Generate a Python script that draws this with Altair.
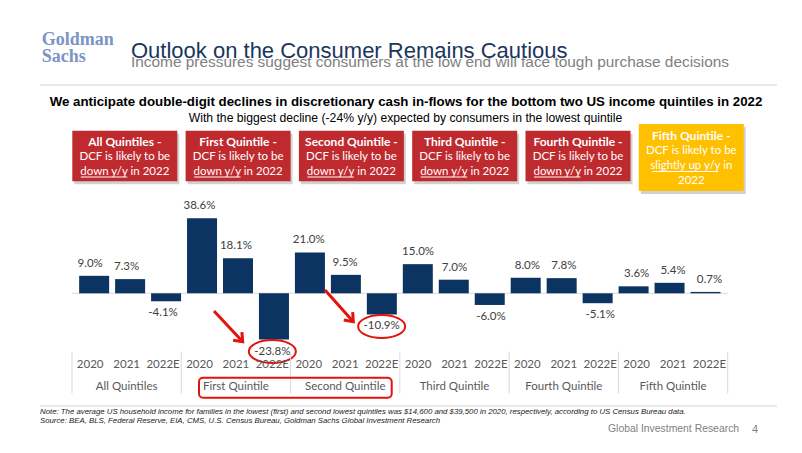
import altair as alt
import pandas as pd

# ---------------- data ----------------
groups = ["All Quintiles", "First Quintile", "Second Quintile",
          "Third Quintile", "Fourth Quintile", "Fifth Quintile"]
years = ["2020", "2021", "2022E"]
values = [9.0, 7.3, -4.1, 38.6, 18.1, -23.8, 21.0, 9.5, -10.9,
          15.0, 7.0, -6.0, 8.0, 7.8, -5.1, 3.6, 5.4, 0.7]
callout_idx = [5, 8]

box_titles = ["All Quintiles -", "First Quintile -", "Second Quintile -",
              "Third Quintile -", "Fourth Quintile -", "Fifth Quintile -"]
box_line2 = ["DCF is likely to be"] * 6
box_line3 = ["down y/y in 2022"] * 5 + ["slightly up y/y in"]
box_line4 = ["", "", "", "", "", "2022"]

title = "Outlook on the Consumer Remains Cautious"
subtitle = "Income pressures suggest consumers at the low end will face tough purchase decisions"
headline = ("We anticipate double-digit declines in discretionary cash in-flows "
            "for the bottom two US income quintiles in 2022")
subhead = "With the biggest decline (-24% y/y) expected by consumers in the lowest quintile"
note = ("Note: The average US household income for families in the lowest (first) and second "
        "lowest quintiles was $14,600 and $39,500 in 2020, respectively, according to US Census Bureau data.")
source = "Source: BEA, BLS, Federal Reserve, EIA, CMS, U.S. Census Bureau, Goldman Sachs Global Investment Research"
footer = "Global Investment Research"
page_no = "4"

# ---------------- styling / geometry ----------------
NAVY = "#0b3463"
RED = "#bf2a2f"
ARROW = "#e3120b"
YELLOW = "#ffc000"
W, H = 780, 430
OFF = 8
STEP = 36.43
C0 = 90.2 - OFF
BASE = 293.3 - OFF
PPU = 1.943

xs = alt.Scale(domain=[-C0 / STEP, (W - C0) / STEP], nice=False, zero=False)
ys = alt.Scale(domain=[(BASE - H) / PPU, BASE / PPU], nice=False, zero=False)

FC = "Lato, sans-serif"
FA = "Liberation Sans, Arial, sans-serif"

n = len(values)
df = pd.DataFrame({
    "idx": list(range(n)),
    "value": values,
    "year": [years[i % 3] for i in range(n)],
    "group": [groups[i // 3] for i in range(n)],
})
df["label"] = df["value"].map(lambda v: f"{v:.1f}%")

X = lambda f="idx": alt.X(f"{f}:Q", scale=xs, axis=None)
Y = lambda f="value": alt.Y(f"{f}:Q", scale=ys, axis=None)
PX = lambda f: alt.X(f"{f}:Q", scale=None, axis=None)
PY = lambda f: alt.Y(f"{f}:Q", scale=None, axis=None)


def texts(rows, **props):
    d = pd.DataFrame([{"x": r[0] - OFF, "y": r[1] - OFF, "t": r[2]} for r in rows])
    return alt.Chart(d).mark_text(**props).encode(x=PX("x"), y=PY("y"), text="t:N")


def rects(rows, **props):
    d = pd.DataFrame([{"x": a - OFF, "x2": b - OFF, "y": c - OFF, "y2": e - OFF}
                      for a, b, c, e in rows])
    return alt.Chart(d).mark_rect(**props).encode(
        x=PX("x"), x2="x2:Q", y=PY("y"), y2="y2:Q")


def hrules(rows, **props):
    d = pd.DataFrame([{"x": a - OFF, "x2": b - OFF, "y": c - OFF} for a, b, c in rows])
    return alt.Chart(d).mark_rule(**props).encode(x=PX("x"), x2="x2:Q", y=PY("y"))


layers = []

# header texts
layers.append(texts([(41.7, 45, "Goldman"), (41.7, 61.5, "Sachs")],
                    font="Liberation Serif", fontWeight="bold", fontSize=18,
                    color="#7a94c4", align="left", baseline="alphabetic"))
layers.append(texts([(131, 66.5, subtitle)], font=FA, fontSize=15.4, color="#808080",
                    align="left", baseline="alphabetic"))
layers.append(texts([(131, 58.3, title)], font=FA, fontSize=22, color="#1b365d",
                    align="left", baseline="alphabetic"))
layers.append(hrules([(40, 777, 85)], color="#d4d4d4", strokeWidth=1))
layers.append(texts([(406, 102, headline)], font=FA, fontWeight="bold", fontSize=13.3,
                    color="#000000", align="center", baseline="middle"))
layers.append(texts([(405.5, 117.5, subhead)], font=FA, fontSize=12.2,
                    color="#000000", align="center", baseline="middle"))

# boxes
bx = [72.3 + 113.3 * k for k in range(6)]
red_boxes = [(b, b + 105, 130.7, 181.3) for b in bx[:5]]
yel_box = [(bx[5], bx[5] + 105, 124, 191)]
shadow = [(a + 2, b + 2, c + 3, e + 3) for a, b, c, e in red_boxes + yel_box]
layers.append(rects(shadow, color="#000000", opacity=0.18))
layers.append(rects(red_boxes, color=RED))
layers.append(rects(yel_box, color=YELLOW))
cx = [b + 52.5 for b in bx]
layers.append(texts([(cx[k], 142, box_titles[k]) for k in range(5)] +
                    [(cx[5], 136, box_titles[5])],
                    font=FC, fontWeight="bold", fontSize=12, color="#ffffff",
                    align="center", baseline="middle"))
layers.append(texts([(cx[k], 157, box_line2[k]) for k in range(5)] +
                    [(cx[5], 151, box_line2[5]), (cx[5], 181, box_line4[5])],
                    font=FC, fontSize=11.5, color="#ffffff",
                    align="center", baseline="middle"))
layers.append(texts([(cx[k], 171.5, box_line3[k]) for k in range(5)] +
                    [(cx[5], 166, box_line3[5])],
                    font=FC, fontSize=11.5, color="#ffffff",
                    align="center", baseline="middle"))
layers.append(hrules([(cx[k] - 44, cx[k] + 2.5, 177) for k in range(5)] +
                     [(cx[5] - 39, cx[5] + 27, 171.5)], color="#ffffff", strokeWidth=1))

# chart: baseline, bars, labels
base = pd.DataFrame({"x": [-0.5], "x2": [n - 0.5], "y": [0.0]})
layers.append(alt.Chart(base).mark_rule(color="#d9d9d9", strokeWidth=1).encode(
    x=X("x"), x2="x2:Q", y=Y("y")))
layers.append(alt.Chart(df).mark_bar(size=30, color=NAVY).encode(
    x=X(), y=Y(), y2=alt.datum(0)))
layers.append(alt.Chart(df).transform_filter("datum.value >= 0").mark_text(
    dy=-12, font=FC, fontSize=11.5, color="#404040").encode(x=X(), y=Y(), text="label:N"))
layers.append(alt.Chart(df).transform_filter("datum.value < 0").mark_text(
    dy=12, font=FC, fontSize=11.5, color="#404040").encode(x=X(), y=Y(), text="label:N"))

# call-outs: ellipses and arrows
cdf = df[df["idx"].isin(callout_idx)]
ell = "M-1,0A1,0.49,0,1,1,1,0A1,0.49,0,1,1,-1,0Z"
layers.append(alt.Chart(cdf).mark_point(shape=ell, size=2209, filled=False, yOffset=12,
                                        stroke=ARROW, strokeWidth=2, opacity=1).encode(
    x=X(), y=Y()))
arrows = pd.DataFrame({
    "x": [3.398, 6.445], "y": [-9.11, 1.70],
    "x2": [4.186, 7.222], "y2": [-24.91, -14.62],
    "angle": [137, 138],
})
layers.append(alt.Chart(arrows).mark_rule(color=ARROW, strokeWidth=3).encode(
    x=X("x"), y=Y("y"), x2="x2:Q", y2="y2:Q"))
layers.append(alt.Chart(arrows).mark_point(
    shape="M-0.75,0.95L0,0L0.75,0.95", size=256, filled=False, stroke=ARROW,
    strokeWidth=3, opacity=1).encode(x=X("x2"), y=Y("y2"),
                                     angle=alt.Angle("angle:Q", scale=None)))

# category axis
seps = pd.DataFrame({"x": [-0.5 + 3 * k for k in range(7)]})
layers.append(alt.Chart(seps).mark_rule(color="#d9d9d9", strokeWidth=1).encode(
    x=X("x"), y=alt.value(351.7 - OFF), y2=alt.value(393.3 - OFF)))
layers.append(alt.Chart(df).mark_text(font=FC, fontSize=11.5, color="#595959",
                                      baseline="middle").encode(
    x=X(), y=alt.value(365 - OFF), text="year:N"))
gdf = pd.DataFrame({"x": [1 + 3 * k for k in range(6)], "g": groups})
layers.append(alt.Chart(gdf).mark_text(font=FC, fontSize=11.5, color="#595959",
                                       baseline="middle").encode(
    x=X("x"), y=alt.value(386.7 - OFF), text="g:N"))
layers.append(rects([(199, 391.7, 377.7, 397.7)], fillOpacity=0, stroke=ARROW,
                    strokeWidth=2, cornerRadius=4))

# footer
layers.append(hrules([(40, 777, 406)], color="#d4d4d4", strokeWidth=1))
layers.append(texts([(40, 411.5, note), (40, 421, source)], font=FA, fontStyle="italic",
                    fontSize=7.8, color="#1a1a1a", align="left", baseline="middle"))
layers.append(texts([(608, 428.5, footer)], font=FA, fontSize=10.4, color="#808080",
                    align="left", baseline="middle"))
layers.append(texts([(752, 430, page_no)], font=FA, fontSize=11, color="#808080",
                    align="left", baseline="middle"))

chart = alt.layer(*layers).resolve_scale(x="independent", y="independent").properties(
    width=W, height=H, padding=0, background="#ffffff",
    autosize=alt.AutoSizeParams(type="none"),
).configure_view(strokeWidth=0)

chart.save("out.html", embed_options={"renderer": "svg", "actions": False})
